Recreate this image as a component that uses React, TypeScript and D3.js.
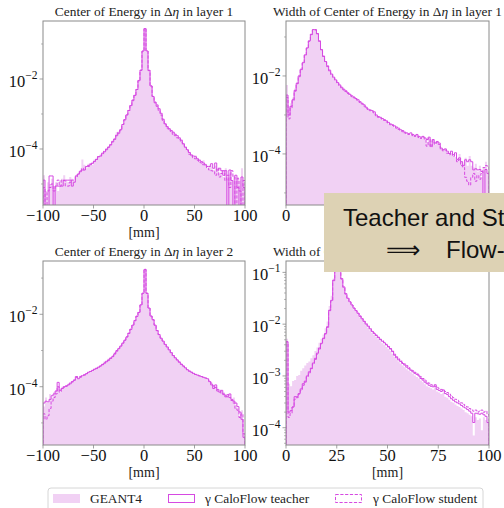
import React from 'react';
import * as d3 from 'd3';

type V = number | null;

// log10 of normalized entries per bin (null = empty bin)
// Center of Energy in Δη, layer 1 (-100..100 mm, 2 mm bins)
const coeL1Geant: V[] = [
  -4.75, -5.2, -4.95, -5.0, -4.85, -5.1, -4.95, -5.2, -4.9, -4.85,
  -4.75, -4.9, -4.95, -4.8, -4.85, -4.9, -4.75, -4.7, -4.6, -4.3,
  -4.45, -4.55, -4.42, -4.4, -4.45, -4.3, -4.25, -4.2, -4.15, -4.1,
  -4.05, -3.97, -3.92, -3.85, -3.78, -3.68, -3.52, -3.52, -3.42, -3.3,
  -3.15, -3.0, -2.88, -2.75, -2.6, -2.45, -2.28, -2.03, -1.74, -1.2,
  -0.57, -1.22, -1.76, -2.18, -2.48, -2.64, -2.76, -2.85, -3.0, -3.13,
  -3.26, -3.36, -3.4, -3.46, -3.5, -3.56, -3.64, -3.7, -3.72, -3.82,
  -3.93, -4.05, -4.08, -4.15, -4.22, -4.18, -4.25, -4.3, -4.38, -4.32,
  -4.42, -4.55, -4.45, -4.5, -4.6, -4.48, -4.55, -4.7, -4.6, -4.8,
  -4.55, -4.85, -4.7, -4.9, -4.75, -5.0, -4.8, -4.9, -4.55, -5.0,
];
const coeL1Teacher: V[] = [
  -4.89, null, null, -4.77, -4.77, null, -5.06, -5.06, -5.06, -5.06,
  -4.89, -4.89, -4.89, -4.89, -5.06, -4.95, -4.77, -4.72, -4.65, -4.6,
  -4.6, -4.5, -4.47, -4.45, -4.41, -4.36, -4.3, -4.22, -4.2, -4.12,
  -4.08, -4.02, -3.95, -3.88, -3.8, -3.72, -3.62, -3.55, -3.45, -3.3,
  -3.17, -3.03, -2.9, -2.76, -2.62, -2.47, -2.3, -2.05, -1.75, -1.2,
  -0.56, -1.2, -1.75, -2.2, -2.5, -2.66, -2.74, -2.85, -2.98, -3.15,
  -3.28, -3.36, -3.42, -3.47, -3.52, -3.58, -3.62, -3.68, -3.75, -3.85,
  -3.95, -4.02, -4.1, -4.17, -4.2, -4.22, -4.28, -4.32, -4.36, -4.4,
  -4.45, -4.5, -4.5, -4.42, -4.55, -4.4, -4.6, -4.55, -4.62, -4.75,
  -4.62, null, -4.6, -4.9, null, -4.75, -5.1, null, -4.8, -5.1,
];
const coeL1Student: V[] = [
  -5.1, null, -5.2, -5.1, -5.0, -5.2, -5.06, -4.89, -5.06, -4.89,
  -4.9, -5.06, -5.06, -4.95, -4.89, -4.89, -4.8, -4.7, -4.62, -4.55,
  -4.6, -4.52, -4.5, -4.43, -4.38, -4.35, -4.3, -4.22, -4.2, -4.15,
  -4.05, -4.0, -3.95, -3.88, -3.78, -3.72, -3.6, -3.52, -3.46, -3.3,
  -3.16, -3.02, -2.9, -2.76, -2.6, -2.46, -2.3, -2.04, -1.75, -1.21,
  -0.56, -1.2, -1.76, -2.2, -2.5, -2.68, -2.78, -2.9, -3.03, -3.18,
  -3.3, -3.4, -3.45, -3.5, -3.58, -3.62, -3.68, -3.72, -3.8, -3.88,
  -3.95, -4.05, -4.15, -4.2, -4.25, -4.28, -4.32, -4.38, -4.4, -4.45,
  -4.48, -4.55, -4.6, -4.62, -4.65, -4.75, -4.55, -4.8, -4.7, -4.62,
  -4.9, -4.75, -5.1, -4.62, -4.8, null, -4.85, -5.2, null, -4.9,
];

// Width of Center of Energy in Δη, layer 1 (0..100 mm, 1 mm bins)
const widthL1Geant: V[] = [
  -2.23, -2.78, -2.7, -2.55, -2.32, -2.15, -1.97, -1.8, -1.63, -1.44,
  -1.27, -1.09, -0.92, -0.8, -0.8, -0.9, -1.1, -1.31, -1.48, -1.63,
  -1.75, -1.86, -1.96, -2.05, -2.12, -2.19, -2.25, -2.31, -2.36, -2.41,
  -2.46, -2.5, -2.54, -2.57, -2.61, -2.65, -2.69, -2.73, -2.77, -2.82,
  -2.87, -2.9, -2.93, -2.96, -3.02, -3.06, -3.09, -3.12, -3.15, -3.18,
  -3.22, -3.26, -3.28, -3.32, -3.35, -3.37, -3.41, -3.44, -3.47, -3.5,
  -3.5, -3.52, -3.54, -3.56, -3.55, -3.58, -3.6, -3.62, -3.64, -3.7,
  -3.66, -3.75, -3.68, -3.76, -3.72, -3.78, -3.86, -3.9, -3.92, -3.97,
  -4.02, -3.98, -4.05, -4.08, -4.12, -4.0, -4.18, -4.25, -4.1, -4.3,
  -4.05, -4.3, -4.35, -4.25, -4.45, -4.3, -4.6, -4.35, -4.2, -4.5,
];
const widthL1Teacher: V[] = [
  -2.49, -3.0, -2.78, -2.61, -2.37, -2.19, -2.0, -1.83, -1.66, -1.46,
  -1.28, -1.1, -0.93, -0.81, -0.81, -0.91, -1.1, -1.32, -1.49, -1.63,
  -1.74, -1.85, -1.95, -2.03, -2.1, -2.17, -2.23, -2.29, -2.34, -2.38,
  -2.43, -2.47, -2.51, -2.54, -2.58, -2.61, -2.66, -2.7, -2.74, -2.8,
  -2.85, -2.87, -2.89, -2.92, -3.0, -3.04, -3.06, -3.09, -3.12, -3.15,
  -3.19, -3.23, -3.25, -3.28, -3.31, -3.34, -3.38, -3.4, -3.44, -3.46,
  -3.48, -3.46, -3.5, -3.53, -3.5, -3.55, -3.57, -3.55, -3.59, -3.63,
  -3.57, -3.8, -3.63, -3.72, -3.68, -3.72, -3.85, -3.89, -3.87, -3.93,
  -3.99, -3.93, -4.02, -3.97, -4.14, -4.1, -4.2, -4.3, -4.15, -4.2,
  -4.15, -4.2, -4.41, -4.38, -4.41, -4.4, -4.45, null, -4.4, -4.5,
];
const widthL1Student: V[] = [
  -2.55, -3.1, -2.82, -2.63, -2.39, -2.2, -2.02, -1.84, -1.67, -1.47,
  -1.29, -1.11, -0.94, -0.82, -0.82, -0.92, -1.11, -1.33, -1.5, -1.64,
  -1.76, -1.87, -1.97, -2.05, -2.12, -2.19, -2.26, -2.31, -2.36, -2.4,
  -2.45, -2.49, -2.53, -2.56, -2.6, -2.64, -2.68, -2.72, -2.77, -2.82,
  -2.86, -2.89, -2.92, -2.95, -3.02, -3.06, -3.08, -3.11, -3.14, -3.18,
  -3.21, -3.25, -3.27, -3.3, -3.34, -3.37, -3.4, -3.43, -3.46, -3.49,
  -3.5, -3.49, -3.53, -3.55, -3.53, -3.58, -3.6, -3.57, -3.62, -3.8,
  -3.6, -3.82, -3.66, -3.75, -3.7, -3.76, -3.88, -3.92, -3.9, -3.98,
  -4.02, -3.97, -4.06, -4.02, -4.2, -4.15, -4.3, -4.35, -4.6, -4.7,
  -4.8, -4.6, -4.5, -4.7, -4.55, -4.65, -4.5, -4.35, -4.3, -4.31,
];

// Center of Energy in Δη, layer 2
const coeL2Geant: V[] = [
  -4.55, -4.3, -4.45, -4.2, -4.3, -4.15, -4.1, -4.0, -4.15, -4.0,
  -3.98, -3.95, -3.92, -3.88, -3.85, -3.8, -3.78, -3.75, -3.7, -3.72,
  -3.66, -3.62, -3.6, -3.56, -3.53, -3.5, -3.47, -3.44, -3.4, -3.35,
  -3.3, -3.26, -3.22, -3.18, -3.14, -3.05, -3.0, -2.93, -2.86, -2.78,
  -2.7, -2.62, -2.52, -2.41, -2.29, -2.17, -2.05, -1.94, -1.73, -1.41,
  -0.75, -1.41, -1.82, -2.04, -2.14, -2.29, -2.44, -2.55, -2.65, -2.73,
  -2.82, -2.9, -2.98, -3.05, -3.13, -3.2, -3.26, -3.31, -3.37, -3.42,
  -3.47, -3.52, -3.56, -3.6, -3.62, -3.65, -3.68, -3.7, -3.72, -3.76,
  -3.78, -3.82, -3.85, -3.9, -3.95, -4.0, -4.05, -4.08, -4.12, -4.15,
  -4.2, -4.22, -4.3, -4.35, -4.3, -4.5, -4.6, -4.8, -4.65, -5.3,
];
const coeL2Teacher: V[] = [
  -4.45, -4.4, -4.42, -4.35, -4.25, -4.2, -4.12, -3.88, -4.1, -4.05,
  -4.0, -3.98, -3.95, -3.92, -3.86, -3.82, -3.72, -3.78, -3.74, -3.7,
  -3.68, -3.64, -3.6, -3.58, -3.55, -3.52, -3.49, -3.46, -3.43, -3.39,
  -3.35, -3.31, -3.27, -3.22, -3.17, -3.1, -3.02, -2.95, -2.88, -2.8,
  -2.72, -2.63, -2.53, -2.42, -2.3, -2.18, -2.06, -1.95, -1.74, -1.42,
  -0.76, -1.42, -1.83, -2.05, -2.15, -2.3, -2.45, -2.56, -2.66, -2.74,
  -2.83, -2.9, -2.98, -3.06, -3.14, -3.2, -3.26, -3.32, -3.38, -3.43,
  -3.48, -3.53, -3.57, -3.6, -3.63, -3.66, -3.68, -3.7, -3.72, -3.74,
  -3.76, -3.78, -3.86, -3.95, -4.05, -3.95, -4.12, -4.15, -4.1, -4.22,
  -4.25, -4.28, -4.2, -4.35, -4.4, -4.45, -4.55, -4.7, -4.9, -5.4,
];
const coeL2Student: V[] = [
  -4.75, -4.9, -4.8, -4.6, -4.4, -4.3, -4.2, -4.0, -4.15, -4.05,
  -4.02, -3.99, -3.95, -3.9, -3.87, -3.82, -3.75, -3.72, -3.72, -3.69,
  -3.67, -3.64, -3.61, -3.58, -3.55, -3.52, -3.5, -3.46, -3.43, -3.39,
  -3.34, -3.3, -3.26, -3.21, -3.16, -3.08, -3.0, -2.94, -2.87, -2.79,
  -2.71, -2.62, -2.52, -2.41, -2.29, -2.17, -2.05, -1.94, -1.74, -1.42,
  -0.76, -1.42, -1.83, -2.05, -2.15, -2.3, -2.45, -2.56, -2.66, -2.74,
  -2.83, -2.9, -2.98, -3.06, -3.14, -3.2, -3.26, -3.32, -3.38, -3.43,
  -3.48, -3.53, -3.57, -3.6, -3.63, -3.66, -3.68, -3.7, -3.72, -3.74,
  -3.76, -3.8, -3.84, -3.9, -3.98, -4.02, -4.08, -4.1, -4.18, -4.2,
  -4.28, -4.22, -4.3, -4.38, -4.45, -4.6, -4.65, -4.85, -4.75, -5.3,
];

// Width of Center of Energy in Δη, layer 2
const widthL2Geant: V[] = [
  -2.28, -3.15, -3.2, -3.1, -3.08, -3.0, -2.98, -2.9, -2.85, -2.8,
  -2.75, -2.72, -2.66, -2.6, -2.52, -2.45, -2.36, -2.28, -2.2, -2.08,
  -1.95, -1.65, -1.45, -1.12, -0.87, -0.8, -0.9, -1.12, -1.29, -1.42,
  -1.52, -1.59, -1.65, -1.71, -1.76, -1.81, -1.87, -1.92, -1.97, -2.02,
  -2.07, -2.12, -2.17, -2.21, -2.25, -2.29, -2.33, -2.37, -2.4, -2.44,
  -2.48, -2.52, -2.57, -2.63, -2.68, -2.72, -2.76, -2.8, -2.83, -2.87,
  -2.9, -2.93, -2.96, -2.99, -3.02, -3.05, -3.09, -3.12, -3.16, -3.2,
  -3.22, -3.24, -3.26, -3.22, -3.3, -3.32, -3.35, -3.33, -3.4, -3.42,
  -3.46, -3.5, -3.52, -3.55, -3.58, -3.6, -3.63, -3.66, -3.7, -3.72,
  -3.75, -3.78, -4.15, -3.8, -3.85, -3.82, -4.05, -3.8, -3.85, -3.9,
];
const widthL2Teacher: V[] = [
  -2.34, -3.7, -3.67, -3.6, -3.4, -3.4, -3.34, -3.25, -3.15, -3.1,
  -3.0, -2.92, -2.85, -2.75, -2.66, -2.56, -2.46, -2.37, -2.27, -2.18,
  -2.05, -1.73, -1.54, -1.15, -0.89, -0.83, -0.92, -1.12, -1.28, -1.41,
  -1.5, -1.57, -1.63, -1.69, -1.74, -1.79, -1.85, -1.9, -1.95, -2.0,
  -2.04, -2.09, -2.14, -2.18, -2.22, -2.26, -2.3, -2.33, -2.36, -2.4,
  -2.44, -2.48, -2.53, -2.6, -2.65, -2.69, -2.72, -2.76, -2.79, -2.83,
  -2.86, -2.89, -2.92, -2.95, -2.97, -3.0, -3.05, -3.08, -3.12, -3.15,
  -3.18, -3.2, -3.21, -3.17, -3.26, -3.28, -3.3, -3.27, -3.34, -3.36,
  -3.4, -3.44, -3.47, -3.5, -3.52, -3.54, -3.57, -3.6, -3.62, -3.65,
  -3.68, -3.72, -3.9, -3.72, -3.73, -3.74, -3.72, -3.75, -3.78, -3.9,
];
const widthL2Student: V[] = [
  -2.34, -3.8, -3.72, -3.6, -3.45, -3.42, -3.35, -3.28, -3.18, -3.12,
  -3.02, -2.94, -2.86, -2.77, -2.68, -2.58, -2.48, -2.38, -2.28, -2.19,
  -2.06, -1.74, -1.55, -1.16, -0.9, -0.84, -0.93, -1.13, -1.29, -1.42,
  -1.5, -1.57, -1.63, -1.69, -1.74, -1.79, -1.84, -1.89, -1.94, -1.99,
  -2.03, -2.08, -2.13, -2.17, -2.21, -2.25, -2.29, -2.32, -2.35, -2.39,
  -2.43, -2.47, -2.52, -2.58, -2.63, -2.67, -2.7, -2.74, -2.77, -2.8,
  -2.84, -2.87, -2.9, -2.93, -2.95, -2.98, -3.02, -3.05, -3.08, -3.12,
  -3.14, -3.17, -3.18, -3.2, -3.22, -3.24, -3.26, -3.28, -3.3, -3.32,
  -3.35, -3.38, -3.42, -3.45, -3.47, -3.5, -3.52, -3.55, -3.58, -3.6,
  -3.63, -3.65, -3.68, -3.66, -3.7, -3.68, -3.66, -3.7, -3.68, -3.75,
];

const coeTicks = [-100, -50, 0, 50, 100];
const widthTicks = [0, 25, 50, 75, 100];
const legendLabels = ['GEANT4', 'γ CaloFlow teacher', 'γ CaloFlow student'];

const LINE = '#d64ae2';
const FILL = '#f1d1f4';
const SPINE = '#8a8a8a';
const SERIF = "'Liberation Serif', 'DejaVu Serif', serif";

interface Spec {
  id: string;
  left: number; top: number; width: number; height: number;
  xDomain: [number, number];
  binWidth: number;
  yExp: [number, number];
  geant: V[]; teacher: V[]; student: V[];
  titlePre: string; titlePost: string;
  xTicks: number[];
  yMajor: number[];
  yMinor: number[];
}

const specs: Spec[] = [
  { id: 'a', left: 43, top: 21, width: 202, height: 184, xDomain: [-100, 100], binWidth: 2,
    yExp: [-5.6, -0.343], geant: coeL1Geant, teacher: coeL1Teacher, student: coeL1Student,
    titlePre: 'Center of Energy in Δ', titlePost: ' in layer 1', xTicks: coeTicks,
    yMajor: [-2, -4], yMinor: [-1, -3, -5] },
  { id: 'b', left: 286, top: 21, width: 203, height: 184, xDomain: [0, 100], binWidth: 1,
    yExp: [-5.31, -0.59], geant: widthL1Geant, teacher: widthL1Teacher, student: widthL1Student,
    titlePre: 'Width of Center of Energy in Δ', titlePost: ' in layer 1', xTicks: widthTicks,
    yMajor: [-2, -4], yMinor: [-1, -3, -5] },
  { id: 'c', left: 43, top: 261, width: 202, height: 184, xDomain: [-100, 100], binWidth: 2,
    yExp: [-5.61, -0.528], geant: coeL2Geant, teacher: coeL2Teacher, student: coeL2Student,
    titlePre: 'Center of Energy in Δ', titlePost: ' in layer 2', xTicks: coeTicks,
    yMajor: [-2, -4], yMinor: [-1, -3, -5] },
  { id: 'd', left: 286, top: 261, width: 203, height: 184, xDomain: [0, 100], binWidth: 1,
    yExp: [-4.334, -0.78], geant: widthL2Geant, teacher: widthL2Teacher, student: widthL2Student,
    titlePre: 'Width of Center of Energy in Δ', titlePost: ' in layer 2', xTicks: widthTicks,
    yMajor: [-1, -2, -3, -4], yMinor: [] },
];

function Panel({ s }: { s: Spec }) {
  const x = d3.scaleLinear().domain(s.xDomain).range([s.left, s.left + s.width]);
  const y = d3.scaleLog().domain([10 ** s.yExp[0], 10 ** s.yExp[1]]).range([s.top + s.height, s.top]);
  const bottom = s.top + s.height;
  const yv = (v: V) => (v === null ? bottom + 3 : y(10 ** v));
  const edges = d3.range(s.xDomain[0], s.xDomain[1] + s.binWidth / 2, s.binWidth);

  const pts = (vals: V[]): [number, V][] => {
    const p: [number, V][] = vals.map((v, i) => [edges[i], v]);
    p.push([edges[vals.length], vals[vals.length - 1]]);
    return p;
  };

  const line = d3.line<[number, V]>().x((d) => x(d[0])).y((d) => yv(d[1])).curve(d3.curveStepAfter);
  const area = d3.area<[number, V]>().x((d) => x(d[0])).y0(bottom + 3).y1((d) => yv(d[1])).curve(d3.curveStepAfter);

  const outline = (vals: V[]) => {
    const p = pts(vals);
    const full: [number, V][] = [[edges[0], null], ...p, [edges[vals.length], null]];
    return line(full) || '';
  };

  // minor ticks
  const minorVals: number[] = [];
  if (s.yMinor.length) {
    s.yMinor.forEach((e) => minorVals.push(10 ** e));
  } else {
    for (let e = Math.floor(s.yExp[0]); e <= Math.ceil(s.yExp[1]); e++) {
      for (let k = 2; k <= 9; k++) minorVals.push(k * 10 ** e);
    }
  }
  const [lo, hi] = y.domain();
  const minors = minorVals.filter((v) => v >= lo && v <= hi);

  const clipId = `clip-${s.id}`;
  const cx = s.left + s.width / 2;

  return (
    <g>
      <defs>
        <clipPath id={clipId}>
          <rect x={s.left} y={s.top} width={s.width} height={s.height} />
        </clipPath>
      </defs>
      <g clipPath={`url(#${clipId})`}>
        <path d={area(pts(s.geant)) || ''} fill={FILL} stroke="none" />
        <path d={outline(s.teacher)} fill="none" stroke={LINE} strokeWidth={1} />
        <path d={outline(s.student)} fill="none" stroke={LINE} strokeWidth={1} strokeDasharray="3.2,1.6" />
      </g>
      <rect x={s.left} y={s.top} width={s.width} height={s.height} fill="none" stroke={SPINE} strokeWidth={1} />
      {s.xTicks.map((t) => (
        <g key={`xt${t}`}>
          <line x1={x(t)} x2={x(t)} y1={bottom} y2={bottom + 3.5} stroke={SPINE} strokeWidth={0.8} />
          <text x={x(t)} y={bottom + 16} textAnchor="middle" fontFamily={SERIF} fontSize={16.5} fill="#111">
            {t < 0 ? `−${Math.abs(t)}` : `${t}`}
          </text>
        </g>
      ))}
      {s.yMajor.map((e) => (
        <g key={`yt${e}`}>
          <line x1={s.left - 3.5} x2={s.left} y1={y(10 ** e)} y2={y(10 ** e)} stroke={SPINE} strokeWidth={0.8} />
          <text x={s.left - 5.5} y={y(10 ** e) + 8} textAnchor="end" fontFamily={SERIF} fontSize={16.5} fill="#111">
            10<tspan dy={-8} fontSize={11.5}>{`−${Math.abs(e)}`}</tspan>
          </text>
        </g>
      ))}
      {minors.map((v, i) => (
        <line key={`ym${i}`} x1={s.left - 2} x2={s.left} y1={y(v)} y2={y(v)} stroke={SPINE} strokeWidth={0.6} />
      ))}
      <text x={cx} y={s.top - 5} textAnchor="middle" fontFamily={SERIF} fontSize={13.4} fill="#222">
        {s.titlePre}
        <tspan fontStyle="italic">η</tspan>
        {s.titlePost}
      </text>
      <text x={cx} y={bottom + 32} textAnchor="middle" fontFamily={SERIF} fontSize={14} fill="#222">
        [mm]
      </text>
    </g>
  );
}

export default function App() {
  return (
    <svg
      width={504}
      height={508}
      viewBox="0 0 504 508"
      style={{ position: 'absolute', left: 0, top: 0, background: '#fff' }}
    >
      <rect x={0} y={0} width={504} height={508} fill="#fff" />
      {specs.map((s) => (
        <Panel key={s.id} s={s} />
      ))}
      {/* legend */}
      <g fontFamily={SERIF} fontSize={13.4} fill="#222">
        <rect x={48} y={488} width={435} height={30} rx={3} fill="#fff" stroke="#cccccc" strokeWidth={0.8} />
        <rect x={53} y={494} width={27} height={9} fill={FILL} />
        <text x={90} y={503}>{legendLabels[0]}</text>
        <rect x={168.5} y={494.5} width={26} height={8} fill="none" stroke={LINE} strokeWidth={1} />
        <text x={205} y={503}>{legendLabels[1]}</text>
        <rect x={335.5} y={494.5} width={26} height={8} fill="none" stroke={LINE} strokeWidth={1} strokeDasharray="3.2,1.6" />
        <text x={373} y={503}>{legendLabels[2]}</text>
      </g>
      {/* slide overlay */}
      <g>
        <rect x={324} y={193} width={200} height={79} fill="#ddd2b4" />
        <text x={343} y={226} fontFamily="'Liberation Sans', 'DejaVu Sans', sans-serif" fontSize={24} fill="#111">
          Teacher and Student
        </text>
        <text x={386} y={258} fontFamily="'DejaVu Sans', sans-serif" fontSize={24} fill="#111">
          ⟹
        </text>
        <text x={446} y={258} fontFamily="'Liberation Sans', 'DejaVu Sans', sans-serif" fontSize={24} fill="#111">
          Flow-based
        </text>
      </g>
    </svg>
  );
}
